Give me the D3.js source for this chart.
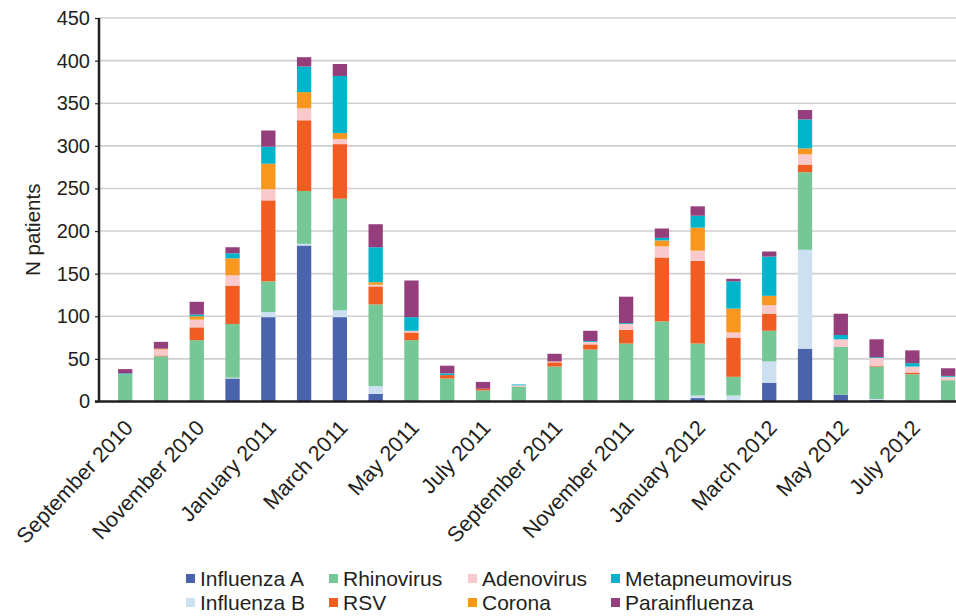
<!DOCTYPE html>
<html>
<head>
<meta charset="utf-8">
<script src="https://cdn.jsdelivr.net/npm/d3@7"></script>
<style>
  html, body { margin: 0; padding: 0; background: #fff; }
  svg { display: block; font-family: "Liberation Sans", Arial, sans-serif; }
</style>
</head>
<body>
<svg id="chart" width="956" height="616"></svg>
<script>
const months = ["Sep 2010","Oct 2010","Nov 2010","Dec 2010","Jan 2011","Feb 2011","Mar 2011","Apr 2011","May 2011","Jun 2011","Jul 2011","Aug 2011",
                "Sep 2011","Oct 2011","Nov 2011","Dec 2011","Jan 2012","Feb 2012","Mar 2012","Apr 2012","May 2012","Jun 2012","Jul 2012","Aug 2012"];
const tickLabels = ["September 2010","November 2010","January 2011","March 2011","May 2011","July 2011",
                    "September 2011","November 2011","January 2012","March 2012","May 2012","July 2012"];
const yTicks = [0,50,100,150,200,250,300,350,400,450];

const influenzaA      = [0, 0, 1, 27, 99, 183, 99, 9, 0, 0, 0, 0, 0, 0, 0, 0, 4, 1, 22, 62, 8, 2, 0, 0];
const influenzaB      = [0, 0, 0, 1, 6, 2, 8, 9, 0, 0, 0, 0, 0, 0, 0, 0, 3, 6, 25, 116, 0, 1, 0, 0];
const rhinovirus      = [32, 53, 71, 63, 36, 62, 131, 96, 72, 27, 13, 17, 41, 61, 68, 94, 61, 22, 36, 91, 56, 38, 32, 25];
const rsv             = [0, 1, 15, 45, 95, 83, 64, 21, 9, 4, 2, 0, 5, 6, 16, 75, 97, 46, 20, 9, 0, 1, 2, 0];
const adenovirus      = [0, 7, 9, 12, 13, 14, 6, 2, 2, 0, 0, 2, 1, 3, 7, 13, 12, 6, 10, 12, 9, 9, 7, 4];
const corona          = [0, 1, 4, 20, 30, 19, 7, 3, 0, 0, 0, 0, 0, 0, 0, 7, 27, 28, 11, 7, 0, 0, 0, 0];
const metapneumovirus = [1, 0, 2, 6, 20, 30, 67, 41, 16, 2, 0, 1, 0, 1, 1, 3, 14, 32, 46, 34, 5, 1, 4, 1];
const parainfluenza   = [5, 8, 15, 7, 19, 11, 14, 27, 43, 9, 8, 0, 9, 12, 31, 11, 11, 3, 6, 11, 25, 21, 15, 9];

const seriesNames  = ["Influenza A","Influenza B","Rhinovirus","RSV","Adenovirus","Corona","Metapneumovirus","Parainfluenza"];
const seriesValues = [influenzaA, influenzaB, rhinovirus, rsv, adenovirus, corona, metapneumovirus, parainfluenza];
const colors = ["#4a63ad","#cce0f2","#75c795","#f15c22","#f9c9cb","#f8971f","#00b4cc","#953e7c"];

const table = months.map((m, i) => {
  const row = { month: m };
  seriesNames.forEach((s, k) => row[s] = seriesValues[k][i]);
  return row;
});

const svg = d3.select("#chart");
const axisX = 99, plotRight = 956, y0 = 401.5, yTop = 18;
const step = 35.78;
const x = d3.scaleBand().domain(months)
  .range([125.2 - step / 2, 125.2 - step / 2 + step * months.length])
  .paddingInner(0.6).paddingOuter(0.3);
const y = d3.scaleLinear().domain([0, 450]).range([y0, yTop]);
const color = d3.scaleOrdinal().domain(seriesNames).range(colors);

// gridlines
svg.append("g").selectAll("line").data(yTicks.filter(d => d > 0)).join("line")
  .attr("x1", axisX).attr("x2", plotRight)
  .attr("y1", d => y(d)).attr("y2", d => y(d))
  .attr("stroke", "#cfcfcf").attr("stroke-width", 1.6);

// bars
const stack = d3.stack().keys(seriesNames)(table);
svg.append("g").selectAll("g").data(stack).join("g")
  .attr("fill", d => color(d.key))
  .selectAll("rect").data(d => d).join("rect")
  .attr("x", d => x(d.data.month))
  .attr("width", x.bandwidth())
  .attr("y", d => y(d[1]))
  .attr("height", d => Math.max(0, y(d[0]) - y(d[1])));

// y axis
const yAxis = d3.axisLeft(y).tickValues(yTicks).tickSize(4).tickPadding(5);
const gy = svg.append("g").attr("transform", `translate(${axisX},0)`).call(yAxis);
gy.select(".domain").attr("stroke", "#231f20").attr("stroke-width", 2.5).attr("d", `M0,${yTop}V${y0}`);
gy.selectAll(".tick line").attr("stroke", "#231f20").attr("stroke-width", 1.2);
gy.selectAll(".tick text").attr("font-size", 20).attr("fill", "#231f20")
  .attr("font-family", "Liberation Sans, Arial, sans-serif");

// x axis baseline
svg.append("line").attr("x1", axisX - 4).attr("x2", plotRight)
  .attr("y1", y0).attr("y2", y0).attr("stroke", "#231f20").attr("stroke-width", 2.5);

// x labels
svg.append("g").selectAll("text").data(tickLabels).join("text")
  .attr("transform", (d, i) => `translate(${x(months[i * 2]) + x.bandwidth() / 2 - 2},${y0 + 17}) rotate(-47)`)
  .attr("text-anchor", "end").attr("dy", "0.7em")
  .attr("font-size", 21.5).attr("fill", "#231f20")
  .text(d => d);

// y title
svg.append("text").attr("transform", `translate(40,${(y0 + yTop) / 2 + 20}) rotate(-90)`)
  .attr("text-anchor", "middle").attr("font-size", 20.5).attr("fill", "#231f20")
  .text("N patients");

// legend
const legendCols = [186, 329, 468, 611];
const legendRows = [579, 603];
const legendOrder = ["Influenza A","Influenza B","Rhinovirus","RSV","Adenovirus","Corona","Metapneumovirus","Parainfluenza"];
const lg = svg.append("g").selectAll("g").data(legendOrder).join("g")
  .attr("transform", (d, i) => `translate(${legendCols[Math.floor(i / 2)]},${legendRows[i % 2]})`);
lg.append("rect").attr("x", 0).attr("y", -5).attr("width", 9).attr("height", 9).attr("fill", d => color(d));
lg.append("text").attr("x", 14).attr("y", 0).attr("dy", "0.35em")
  .attr("font-size", 21).attr("fill", "#231f20").text(d => d);
</script>
</body>
</html>
